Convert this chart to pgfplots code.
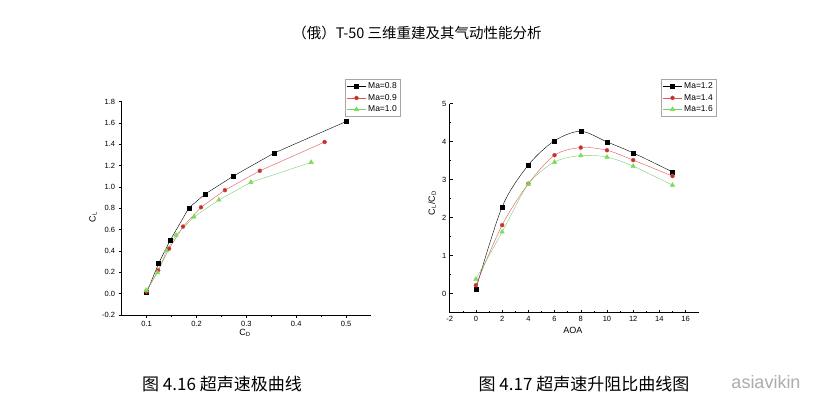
\documentclass[border=0pt]{standalone}
\usepackage{fontspec}
\setmainfont{Liberation Sans}
\newfontfamily\cjk{Noto Sans CJK SC}
\usepackage{pgfplots}
\pgfplotsset{compat=1.18}
\definecolor{mred}{HTML}{C0302A}
\definecolor{lred}{HTML}{E05555}
\definecolor{mgreen}{HTML}{7CDC55}
\definecolor{lgreen}{HTML}{77D077}
\pgfplotsset{
  common/.style={
    scale only axis,
    axis lines*=left,
    axis line style={line width=0.6pt},
    /pgf/number format/assume math mode=true,
    tick label style={font=\fontsize{7.5}{8}\selectfont},
    label style={font=\fontsize{9}{10}\selectfont},
    major tick length=3pt, minor tick length=1.6pt,
    every tick/.style={black, line width=0.5pt},
    legend style={font=\fontsize{8.5}{9}\selectfont, draw=gray!70, inner sep=1.5pt, row sep=0pt, cells={anchor=west}},
    legend image code/.code={\draw[mark repeat=2,mark phase=2] plot coordinates {(0pt,0pt)(9.5pt,0pt)(19pt,0pt)};},
  },
}
\begin{document}
\begin{tikzpicture}
\path[fill=white, use as bounding box] (0pt,0pt) rectangle (819pt,416pt);
\node[font=\cjk\fontsize{14.5}{15}\selectfont] at (417pt,383pt) {（俄）T-50 三维重建及其气动性能分析};
\node[font=\cjk\fontsize{17}{17}\selectfont] at (222pt,32pt) {图 4.16 超声速极曲线};
\node[font=\cjk\fontsize{17}{17}\selectfont] at (584pt,32pt) {图 4.17 超声速升阻比曲线图};
\node[font=\fontsize{18}{18}\selectfont, text=gray!65] at (766pt,34pt) {asiavikin};

\begin{axis}[common,
  at={(121.7pt,101pt)}, anchor=south west, width=249.3pt, height=213.3pt,
  xmin=0.05, xmax=0.55, ymin=-0.2, ymax=1.8,
  xtick={0.1,0.2,0.3,0.4,0.5}, ytick={-0.2,0,0.2,...,1.8},
  minor x tick num=1, minor y tick num=1,
  tick align=outside,
  xticklabel style={/pgf/number format/.cd, fixed, fixed zerofill, precision=1},
  yticklabel style={/pgf/number format/.cd, fixed, fixed zerofill, precision=1},
  xlabel={C\textsubscript{D}}, ylabel={C\textsubscript{L}},
  xlabel style={at={(axis description cs:0.495,-0.084)}, anchor=center},
  ylabel style={at={(axis description cs:-0.115,0.46)}, anchor=center},
  legend style={at={(rel axis cs:0.896,1.106)}, anchor=north west},
]
\addplot[black, line width=0.4pt, mark=square*, mark size=2pt, mark options={fill=black}] coordinates {
(0.100,0.01) (0.124,0.283) (0.147,0.498) (0.185,0.806) (0.217,0.933) (0.273,1.100) (0.355,1.317) (0.501,1.616)};
\addlegendentry{Ma=0.8}
\addplot[lred, line width=0.4pt, mark=*, mark size=2pt, mark options={fill=mred, draw=lred}] coordinates {
(0.100,0.02) (0.123,0.219) (0.145,0.422) (0.173,0.629) (0.209,0.810) (0.257,0.971) (0.327,1.152) (0.457,1.422)};
\addlegendentry{Ma=0.9}
\addplot[lgreen, line width=0.4pt, mark=triangle*, mark size=2.6pt, mark options={fill=mgreen, draw=mgreen}] coordinates {
(0.099,0.032) (0.122,0.197) (0.140,0.403) (0.159,0.549) (0.195,0.720) (0.245,0.879) (0.309,1.044) (0.430,1.232)};
\addlegendentry{Ma=1.0}
\end{axis}

\begin{axis}[common,
  at={(449.7pt,103.5pt)}, anchor=south west, width=249pt, height=209pt,
  xmin=-2, xmax=17, ymin=-0.5, ymax=5,
  xtick={-2,0,...,16}, ytick={0,1,...,5},
  minor x tick num=1, minor y tick num=1,
  tick align=inside,
  xlabel={AOA}, ylabel={C\textsubscript{L}/C\textsubscript{D}},
  xlabel style={at={(axis description cs:0.495,-0.084)}, anchor=center},
  ylabel style={at={(axis description cs:-0.071,0.524)}, anchor=center},
  legend style={at={(rel axis cs:0.849,1.117)}, anchor=north west},
]
\addplot[black, line width=0.4pt, smooth, tension=0.5, mark=square*, mark size=2pt, mark options={fill=black}] coordinates {
(0,0.12) (2,2.28) (4,3.38) (6,4.02) (8,4.27) (10,3.99) (12,3.70) (15,3.20)};
\addlegendentry{Ma=1.2}
\addplot[lred, line width=0.4pt, smooth, tension=0.5, mark=*, mark size=2pt, mark options={fill=mred, draw=lred}] coordinates {
(0,0.22) (2,1.80) (4,2.89) (6,3.64) (8,3.84) (10,3.77) (12,3.51) (15,3.09)};
\addlegendentry{Ma=1.4}
\addplot[lgreen, line width=0.4pt, smooth, tension=0.5, mark=triangle*, mark size=2.6pt, mark options={fill=mgreen, draw=mgreen}] coordinates {
(0,0.38) (2,1.62) (4,2.88) (6,3.46) (8,3.63) (10,3.59) (12,3.35) (15,2.85)};
\addlegendentry{Ma=1.6}
\end{axis}
\end{tikzpicture}
\end{document}
